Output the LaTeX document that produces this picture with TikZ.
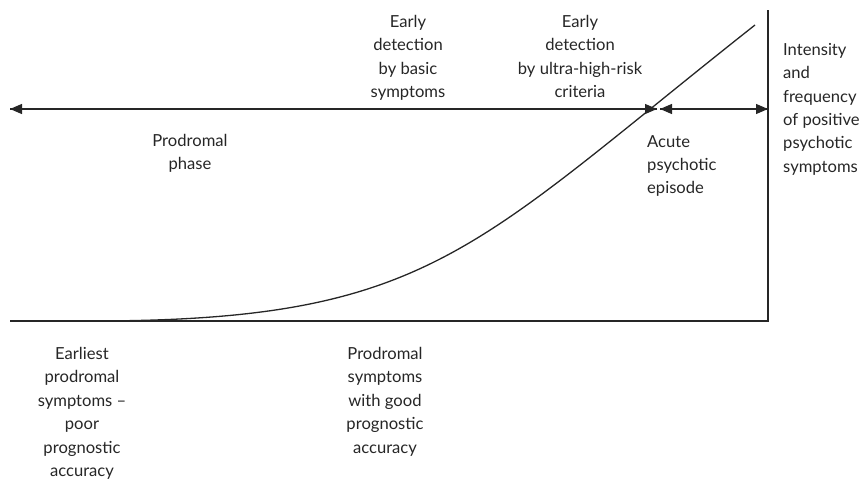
\documentclass[tikz,border=0pt]{standalone}
\usepackage{fontspec}
\setmainfont{Lato}
\usetikzlibrary{arrows.meta}
\definecolor{ink}{HTML}{262626}
\tikzset{
  lbl/.style={inner sep=0pt, text=ink, font=\fontsize{16.6}{23.4}\selectfont},
  ln/.style={draw=ink, line width=1.3pt},
  tip/.style={-{Triangle[length=12pt,width=10pt]}},
}
\begin{document}
\begin{tikzpicture}[x=1pt,y=-1pt]
\useasboundingbox (0,0) rectangle (863,484);
% axes
\coordinate (bl) at (10,321);
\coordinate (br) at (768,321);
\coordinate (vt) at (768,10);
\draw[ln] (bl) -- (br) -- (vt);
% curve
\coordinate (c0) at (90,321);
\coordinate (c1) at (755,25);
\draw[ln] (c0) .. controls (430,321) and (470,250) .. (c1);
% arrows
\coordinate (al) at (10,109);
\coordinate (am) at (657,109);
\coordinate (am2) at (660,109);
\coordinate (ar) at (768,109);
\draw[ln, tip] (am) -- (al);
\draw[ln, tip] (al) -- (am);
\draw[ln, tip] (ar) -- (am2);
\draw[ln, tip] (am2) -- (ar);
% labels
\node[lbl, anchor=north, align=center] (basic) at (408,15) {Early\\detection\\by basic\\symptoms};
\node[lbl, anchor=north, align=center] (uhr) at (580,15) {Early\\detection\\by ultra-high-risk\\criteria};
\node[lbl, anchor=north west, align=left] (inten) at (783,43) {Intensity\\and\\frequency\\of positive\\psychotic\\symptoms};
\node[lbl, anchor=north west, align=left] (acute) at (647,135) {Acute\\psychotic\\episode};
\node[lbl, anchor=north, align=center] (phase) at (190,134) {Prodromal\\phase};
\node[lbl, anchor=north, align=center] (earliest) at (82,347) {Earliest\\prodromal\\symptoms --\\poor\\prognostic\\accuracy};
\node[lbl, anchor=north, align=center] (good) at (385,347) {Prodromal\\symptoms\\with good\\prognostic\\accuracy};
\end{tikzpicture}
\end{document}
